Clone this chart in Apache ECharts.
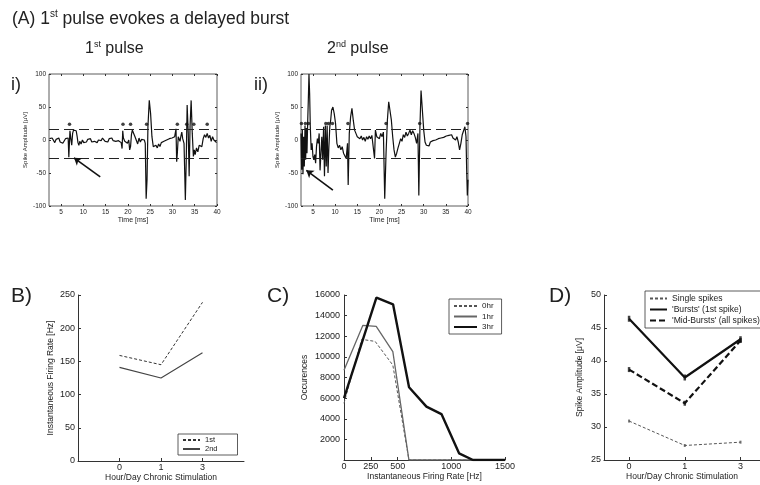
<!DOCTYPE html>
<html>
<head>
<meta charset="utf-8">
<script src="https://cdn.jsdelivr.net/npm/echarts@6/dist/echarts.min.js"></script>
<style>
  html, body { margin: 0; padding: 0; background: #fff; }
  #chart { width: 760px; height: 485px; }
</style>
</head>
<body>
<div id="chart"></div>
<script>
// ---- data ----

// (A) i) 1st pulse, [time ms, amplitude uV]
const traceI = [
  [2.4, 2], [2.7, -1], [3.0, 3], [3.3, 0], [3.6, -4], [3.9, 1], [4.2, -2], [4.5, 3], [4.8, -3],
  [5.1, 0], [5.4, -5], [5.7, -2], [6.0, 2], [6.3, -1], [6.6, 3], [6.75, -26], [6.85, -24],
  [7.0, 14], [7.2, 2], [7.4, -8], [7.6, 10], [7.8, 15], [8.0, 12], [8.2, 16], [8.4, 14],
  [8.6, 6], [8.8, -4], [9.0, -8], [9.2, -2], [9.5, -6], [9.8, 0], [10.1, -4], [10.4, -1],
  [10.7, -3], [11.0, 1], [11.3, -2], [11.6, 2], [11.9, -3], [12.2, 0], [12.5, -2], [12.8, 1],
  [13.1, -4], [13.4, 0], [13.7, 2], [14.0, -1], [14.3, 3], [14.6, 0], [14.9, -2], [15.2, 1],
  [15.5, -3], [15.8, 2], [16.1, 0], [16.4, 3], [16.7, -1], [17.0, 2], [17.3, -2], [17.6, 1],
  [17.9, -1], [18.2, 2], [18.5, -4], [18.7, -13], [18.85, 14], [19.0, 3], [19.3, -2], [19.6, 1],
  [19.9, -5], [20.2, 0], [20.4, -15], [20.6, -10], [20.8, 8], [21.0, 15], [21.3, 10], [21.6, 5],
  [21.9, 2], [22.2, -6], [22.5, 3], [22.8, -3], [23.1, 1], [23.4, -2], [23.7, 0], [23.9, -5],
  [24.1, -89], [24.3, -60], [24.5, 20], [24.8, 60], [25.1, 40], [25.4, 5], [25.7, -10], [26.0, -12],
  [26.3, -8], [26.6, -12], [26.9, -6], [27.2, -10], [27.5, -4], [27.8, -7], [28.1, -2], [28.4, -5],
  [28.7, 0], [29.0, -3], [29.3, 2], [29.6, -1], [29.9, 3], [30.2, 1], [30.5, 5], [30.8, 17],
  [30.95, -33], [31.1, -20], [31.3, 5], [31.5, 8], [31.7, -2], [31.9, 6], [32.1, 12], [32.3, 2],
  [32.6, -5], [32.9, -91], [33.1, -30], [33.3, 53], [33.55, 10], [33.75, -55], [33.95, 20],
  [34.2, 60], [34.45, 10], [34.7, -25], [34.9, -15], [35.1, -22], [35.4, -12], [35.7, -18],
  [36.0, -8], [36.3, -5], [36.6, -10], [36.9, 2], [37.2, 8], [37.5, 4], [37.8, 10], [38.1, 3],
  [38.4, 7], [38.7, -2], [39.0, 5], [39.3, 0], [39.6, 3], [39.9, -4]
];
const starTimesI = [6.9, 18.9, 20.6, 24.2, 31.1, 33.2, 34.8, 37.8];
const starLevelI = 24;

// (A) ii) 2nd pulse
const traceII = [
  [2.3, 10], [2.45, -45], [2.6, 15], [2.75, -52], [2.9, 5], [3.05, -40], [3.2, 22], [3.35, -30],
  [3.5, 18], [3.65, -20], [3.8, 25], [3.95, 60], [4.1, 100], [4.25, 70], [4.4, 20], [4.6, -15],
  [4.8, -5], [5.0, -25], [5.2, -30], [5.4, -22], [5.6, -35], [5.8, -10], [6.0, 2], [6.2, -5],
  [6.4, 10], [6.6, -46], [6.8, -20], [7.0, 5], [7.2, -30], [7.4, 20], [7.6, -55], [7.8, 22],
  [8.0, -40], [8.2, 22], [8.4, -50], [8.6, -10], [8.8, 20], [9.0, 30], [9.2, 45], [9.5, 50],
  [9.8, 40], [10.1, 25], [10.4, -5], [10.7, -12], [11.0, -8], [11.3, -15], [11.6, -10], [11.9, -20],
  [12.2, -18], [12.5, -28], [12.8, -5], [12.95, -68], [13.2, 10], [13.5, 35], [13.8, 48], [14.1, 30],
  [14.4, 15], [14.7, 10], [15.0, 5], [15.3, 8], [15.6, 2], [15.9, 6], [16.2, 0], [16.5, 4],
  [16.8, -2], [17.1, 5], [17.4, 1], [17.7, 6], [18.0, 2], [18.3, 7], [18.6, 4], [18.9, -28],
  [19.1, 15], [19.4, 5], [19.7, 8], [20.0, 2], [20.3, 10], [20.6, 5], [20.9, 12], [21.2, -89],
  [21.5, -20], [21.8, 30], [22.1, 58], [22.4, 55], [22.7, 30], [23.0, 5], [23.3, -15], [23.6, -26],
  [23.9, -20], [24.2, -12], [24.5, -5], [24.8, 2], [25.1, -2], [25.4, 8], [25.7, 4], [26.0, 12],
  [26.3, 6], [26.6, 10], [26.9, 15], [27.2, 8], [27.5, 14], [27.8, 10], [28.1, 4], [28.4, -5],
  [28.7, 10], [28.9, -84], [29.15, 20], [29.4, 75], [29.7, 45], [30.0, 15], [30.3, -3], [30.6, -8],
  [30.9, -5], [31.2, -9], [31.5, -3], [31.8, -6], [32.1, -1], [32.4, -4], [32.7, 0], [33.0, -3],
  [33.3, 2], [33.6, -1], [33.9, 3], [34.2, 0], [34.5, 4], [34.8, 2], [35.1, 6], [35.4, 3],
  [35.7, 7], [36.0, 4], [36.3, 8], [36.6, 3], [36.9, 6], [37.2, 0], [37.5, 5], [37.8, -3],
  [38.1, -15], [38.4, -5], [38.7, 8], [39.0, 14], [39.3, 20], [39.55, 5], [39.7, -45], [39.85, -84],
  [40.0, -60]
];
const starTimesII = [2.4, 3.3, 4.0, 7.9, 8.5, 9.4, 12.9, 21.5, 29.1, 39.9];
const starLevelII = 25;

const thresholds = [17, -27];
const arrowI = [[13.8, -56], [7.9, -27]];
const arrowII = [[9.5, -76], [3.5, -46]];
const timeTicks = [5, 10, 15, 20, 25, 30, 35, 40];

// (B) instantaneous firing rate
const stimCats = ['0', '1', '3'];
const firing1st = [159, 145, 239];
const firing2nd = [141, 125, 163];

// (C) firing rate histogram, [rate Hz, occurences]
const occ0hr = [[0, 5500], [165, 11700], [290, 11500], [455, 9200], [605, 0], [1500, 0]];
const occ1hr = [[0, 8700], [175, 13050], [300, 12950], [455, 10500], [605, 0], [1500, 0]];
const occ3hr = [[0, 6000], [302, 15750], [457, 15100], [606, 7050], [768, 5180], [908, 4450],
  [1072, 650], [1202, 0], [1500, 0]];
const rateTicks = [0, 250, 500, 1000, 1500];

// (D) spike amplitude
const ampSingle = [30.9, 27.2, 27.7];
const ampBursts = [46.4, 37.5, 43.3];
const ampMidBursts = [38.7, 33.6, 43.1];

// ---- chart ----
const FONT = 'Liberation Sans';
const INK = '#222';
const chart = echarts.init(document.getElementById('chart'));

// categories sit at positions 1, 2, 3 so that zero stays outside / at the edge of the x range
const catPos = [1, 2, 3];
const idx = arr => arr.map((v, i) => [catPos[i], v]);

function spikeX(grid, bottom) {
  return {
    type: 'value', gridIndex: grid, min: 2.3, max: 40, position: bottom ? 'bottom' : 'top',
    name: bottom ? 'Time [ms]' : '', nameLocation: 'middle', nameGap: 9,
    nameTextStyle: { fontSize: 7, color: INK, fontFamily: FONT },
    axisLine: { show: false, onZero: false },
    axisTick: { inside: true, length: 2, customValues: timeTicks, lineStyle: { color: '#333' } },
    axisLabel: { show: bottom, customValues: timeTicks, fontSize: 6.5, margin: 3, color: INK, fontFamily: FONT },
    splitLine: { show: false }
  };
}
function spikeY(grid, left) {
  return {
    type: 'value', gridIndex: grid, min: -100, max: 100, interval: 50, position: left ? 'left' : 'right',
    name: left ? 'Spike Amplitude [µV]' : '', nameLocation: 'middle', nameGap: 21, nameRotate: 90,
    nameTextStyle: { fontSize: 6, color: INK, fontFamily: FONT },
    axisLine: { show: false, onZero: false },
    axisTick: { inside: true, length: 2, lineStyle: { color: '#333' } },
    axisLabel: { show: left, fontSize: 6.5, margin: 3, color: INK, fontFamily: FONT },
    splitLine: { show: false }
  };
}
function plainX(grid, opts) {
  return Object.assign({
    type: 'value', gridIndex: grid, position: 'bottom', nameLocation: 'middle', nameGap: 11,
    nameTextStyle: { fontSize: 8.5, color: INK, fontFamily: FONT },
    axisLine: { show: true, onZero: false, lineStyle: { color: '#333', width: 1 } },
    axisTick: { inside: true, length: 3, lineStyle: { color: '#333' } },
    axisLabel: { fontSize: 9, margin: 2, color: INK, fontFamily: FONT },
    splitLine: { show: false }
  }, opts);
}
function plainY(grid, opts) {
  return Object.assign({
    type: 'value', gridIndex: grid, position: 'left', nameLocation: 'middle', nameRotate: 90,
    nameTextStyle: { fontSize: 8.5, color: INK, fontFamily: FONT },
    axisLine: { show: true, onZero: false, lineStyle: { color: '#333', width: 1 } },
    axisTick: { inside: true, length: 3, lineStyle: { color: '#333' } },
    axisLabel: { fontSize: 9, margin: 3, color: INK, fontFamily: FONT },
    splitLine: { show: false }
  }, opts);
}

const boxGrid = { show: true, borderColor: '#333', borderWidth: 0.8, backgroundColor: 'transparent', outerBoundsMode: 'none' };
const openGrid = { show: false, outerBoundsMode: 'none' };

// legend: line sample only, no symbol dot
const legendBase = {
  orient: 'vertical', borderColor: '#333', borderWidth: 0.8, borderRadius: 0,
  itemStyle: { opacity: 0 }
};

const catTick = { inside: true, length: 3, customValues: catPos, lineStyle: { color: '#333' } };
const catLabel = { fontSize: 9, margin: 2, color: INK, fontFamily: FONT, customValues: catPos, formatter: v => stimCats[v - 1] };

const options = {
  animation: false,
  textStyle: { fontFamily: FONT },
  grid: [
    Object.assign({ left: 49, top: 74, width: 168, height: 132 }, boxGrid),
    Object.assign({ left: 301, top: 74, width: 167, height: 132 }, boxGrid),
    Object.assign({ left: 78, top: 295, width: 166, height: 166 }, openGrid),
    Object.assign({ left: 344, top: 295, width: 161, height: 165 }, openGrid),
    Object.assign({ left: 604, top: 295, width: 156, height: 165 }, openGrid)
  ],
  xAxis: [
    spikeX(0, true),
    spikeX(1, true),
    plainX(2, { min: 0, max: 4, name: 'Hour/Day Chronic Stimulation', axisTick: catTick, axisLabel: catLabel }),
    plainX(3, { min: 0, max: 1500, name: 'Instantaneous Firing Rate [Hz]',
      axisTick: { inside: true, length: 3, customValues: rateTicks, lineStyle: { color: '#333' } },
      axisLabel: { fontSize: 9, margin: 2, color: INK, fontFamily: FONT, customValues: rateTicks, formatter: v => String(v) } }),
    plainX(4, { min: 0.55, max: 3.35, name: 'Hour/Day Chronic Stimulation', axisTick: catTick, axisLabel: catLabel }),
    spikeX(0, false),
    spikeX(1, false)
  ],
  yAxis: [
    spikeY(0, true),
    spikeY(1, true),
    plainY(2, { min: 0, max: 250, interval: 50, name: 'Instantaneous Firing Rate [Hz]', nameGap: 23 }),
    plainY(3, { min: 0, max: 16000, interval: 2000, name: 'Occurences', nameGap: 35,
      axisLabel: { fontSize: 9, margin: 4, color: INK, fontFamily: FONT, formatter: v => (v === 0 ? '' : String(v)) } }),
    plainY(4, { min: 25, max: 50, interval: 5, name: 'Spike Amplitude [μV]', nameGap: 20 }),
    spikeY(0, false),
    spikeY(1, false)
  ],
  legend: [
    Object.assign({
      data: ['1st', '2nd'], left: 178, top: 434,
      itemWidth: 17, itemHeight: 7, itemGap: 1, padding: [2, 20, 2, 4],
      textStyle: { fontSize: 7.5, color: INK, fontFamily: FONT }
    }, legendBase),
    Object.assign({
      data: ['0hr', '1hr', '3hr'], left: 449, top: 299,
      itemWidth: 23, itemHeight: 9, itemGap: 2.5, padding: [3, 8, 3, 4],
      textStyle: { fontSize: 8, color: INK, fontFamily: FONT }
    }, legendBase),
    Object.assign({
      data: ['Single spikes', "'Bursts' (1st spike)", "'Mid-Bursts' (all spikes)"], left: 645, top: 291,
      itemWidth: 17, itemHeight: 9, itemGap: 2, padding: [3, 12, 3, 4],
      textStyle: { fontSize: 8.6, color: INK, fontFamily: FONT }
    }, legendBase)
  ],
  graphic: [
    { type: 'text', left: 12, top: 9, style: { text: '(A) 1{s|st} pulse evokes a delayed burst', fontSize: 17.5, lineHeight: 20, fontFamily: FONT, fill: INK,
      rich: { s: { fontSize: 10, lineHeight: 9, verticalAlign: 'top', fontFamily: FONT, fill: INK } } } },
    { type: 'text', left: 85, top: 40, style: { text: '1{s|st} pulse', fontSize: 16, lineHeight: 18, fontFamily: FONT, fill: INK,
      rich: { s: { fontSize: 9, lineHeight: 8, verticalAlign: 'top', fontFamily: FONT, fill: INK } } } },
    { type: 'text', left: 327, top: 40, style: { text: '2{s|nd} pulse', fontSize: 16, lineHeight: 18, fontFamily: FONT, fill: INK,
      rich: { s: { fontSize: 9, lineHeight: 8, verticalAlign: 'top', fontFamily: FONT, fill: INK } } } },
    { type: 'text', left: 11, top: 76, style: { text: 'i)', fontSize: 18, fontFamily: FONT, fill: INK } },
    { type: 'text', left: 254, top: 76, style: { text: 'ii)', fontSize: 18, fontFamily: FONT, fill: INK } },
    { type: 'text', left: 11, top: 286, style: { text: 'B)', fontSize: 21, fontFamily: FONT, fill: INK } },
    { type: 'text', left: 267, top: 286, style: { text: 'C)', fontSize: 21, fontFamily: FONT, fill: INK } },
    { type: 'text', left: 549, top: 286, style: { text: 'D)', fontSize: 21, fontFamily: FONT, fill: INK } }
  ],
  series: [
    // A i
    {
      type: 'line', xAxisIndex: 0, yAxisIndex: 0, data: traceI, showSymbol: false, silent: true,
      lineStyle: { color: '#111', width: 1.2 },
      markLine: { silent: true, symbol: 'none', label: { show: false },
        lineStyle: { color: '#222', width: 1, type: [10, 5] },
        data: thresholds.map(v => ({ yAxis: v })) }
    },
    {
      type: 'scatter', xAxisIndex: 0, yAxisIndex: 0, symbolSize: 3.5, silent: true,
      itemStyle: { color: '#111' },
      data: starTimesI.map(t => [t, starLevelI]),
      markLine: { silent: true, symbol: ['none', 'arrow'], symbolSize: 7, label: { show: false },
        lineStyle: { color: '#111', width: 1.6, type: 'solid' },
        data: [[{ coord: arrowI[0] }, { coord: arrowI[1] }]] }
    },
    // A ii
    {
      type: 'line', xAxisIndex: 1, yAxisIndex: 1, data: traceII, showSymbol: false, silent: true,
      lineStyle: { color: '#111', width: 1.2 },
      markLine: { silent: true, symbol: 'none', label: { show: false },
        lineStyle: { color: '#222', width: 1, type: [10, 5] },
        data: thresholds.map(v => ({ yAxis: v })) }
    },
    {
      type: 'scatter', xAxisIndex: 1, yAxisIndex: 1, symbolSize: 3.5, silent: true,
      itemStyle: { color: '#111' },
      data: starTimesII.map(t => [t, starLevelII]),
      markLine: { silent: true, symbol: ['none', 'arrow'], symbolSize: 7, label: { show: false },
        lineStyle: { color: '#111', width: 1.6, type: 'solid' },
        data: [[{ coord: arrowII[0] }, { coord: arrowII[1] }]] }
    },
    // B
    { name: '1st', type: 'line', xAxisIndex: 2, yAxisIndex: 2, data: idx(firing1st), symbol: 'none',
      lineStyle: { color: '#333', width: 1, type: [3, 2] }, itemStyle: { color: '#333' } },
    { name: '2nd', type: 'line', xAxisIndex: 2, yAxisIndex: 2, data: idx(firing2nd), symbol: 'none',
      lineStyle: { color: '#444', width: 1.1 }, itemStyle: { color: '#444' } },
    // C
    { name: '0hr', type: 'line', xAxisIndex: 3, yAxisIndex: 3, data: occ0hr, symbol: 'none',
      lineStyle: { color: '#555', width: 1, type: [3, 2] }, itemStyle: { color: '#555' } },
    { name: '1hr', type: 'line', xAxisIndex: 3, yAxisIndex: 3, data: occ1hr, symbol: 'none',
      lineStyle: { color: '#666', width: 1.3 }, itemStyle: { color: '#666' } },
    { name: '3hr', type: 'line', xAxisIndex: 3, yAxisIndex: 3, data: occ3hr, symbol: 'none',
      lineStyle: { color: '#111', width: 2.4 }, itemStyle: { color: '#111' } },
    // D
    { name: 'Single spikes', type: 'line', xAxisIndex: 4, yAxisIndex: 4, data: idx(ampSingle), symbol: 'none',
      lineStyle: { color: '#555', width: 1, type: [3, 2] }, itemStyle: { color: '#555' } },
    { name: "'Bursts' (1st spike)", type: 'line', xAxisIndex: 4, yAxisIndex: 4, data: idx(ampBursts), symbol: 'none',
      lineStyle: { color: '#111', width: 2.2 }, itemStyle: { color: '#111' } },
    { name: "'Mid-Bursts' (all spikes)", type: 'line', xAxisIndex: 4, yAxisIndex: 4, data: idx(ampMidBursts), symbol: 'none',
      lineStyle: { color: '#111', width: 2.2, type: [6, 3] }, itemStyle: { color: '#111' } },
    { type: 'scatter', xAxisIndex: 4, yAxisIndex: 4, data: idx(ampSingle), symbol: 'rect', symbolSize: [2, 3], itemStyle: { color: '#555' }, silent: true },
    { type: 'scatter', xAxisIndex: 4, yAxisIndex: 4, data: idx(ampBursts), symbol: 'rect', symbolSize: [2.5, 6], itemStyle: { color: '#111' }, silent: true },
    { type: 'scatter', xAxisIndex: 4, yAxisIndex: 4, data: idx(ampMidBursts), symbol: 'rect', symbolSize: [2.5, 5], itemStyle: { color: '#111' }, silent: true }
  ]
};

options && chart.setOption(options);
</script>
</body>
</html>
